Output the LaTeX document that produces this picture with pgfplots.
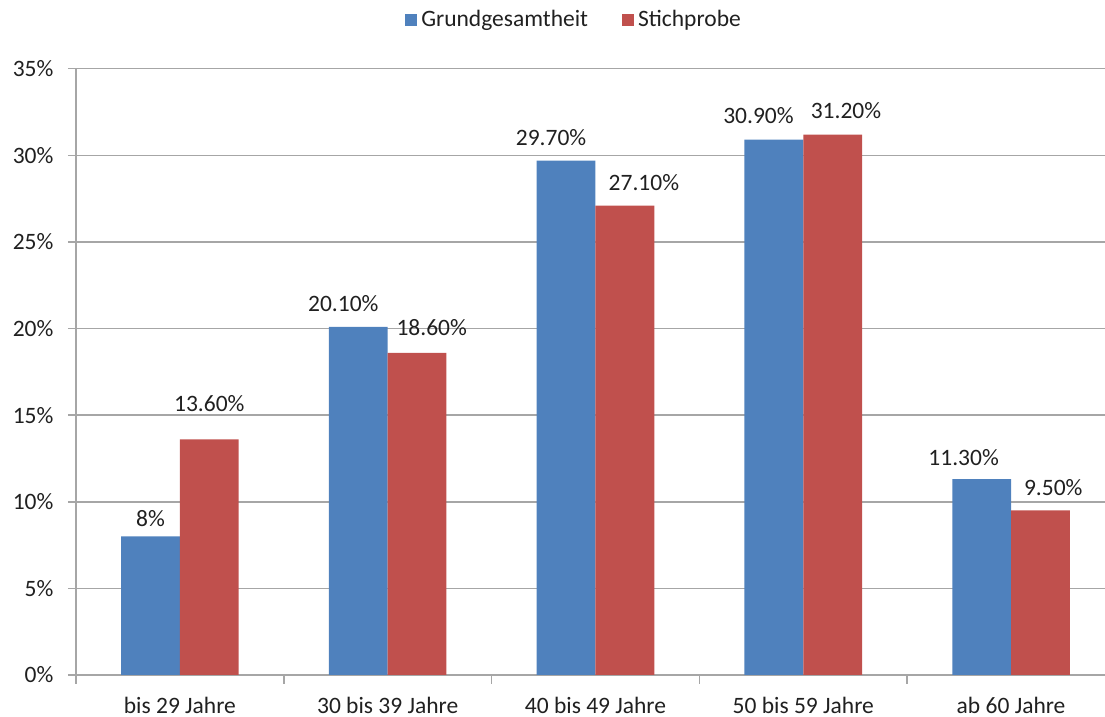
\documentclass[border=0pt]{standalone}
\usepackage{pgfplots}
\pgfplotsset{compat=1.18}
\usepackage{pgfplotstable}
\usepackage{fontspec}
\setmainfont{Carlito}

\definecolor{barblue}{HTML}{4F81BD}
\definecolor{barred}{HTML}{C0504D}
\definecolor{gridgray}{HTML}{A6A6A6}
\definecolor{txt}{HTML}{202020}

% age group index, share in percent, printed label, label offsets (pt)
\pgfplotstableread{
x  y     lab    dx    dy
0  8.0   8      0     4.85
1  20.1  20.10  -7.5  7.5
2  29.7  29.70  -7.5  7.65
3  30.9  30.90  -7.7  8.1
4  11.3  11.30  -9.0  7.1
}\grund
\pgfplotstableread{
x  y     lab    dx    dy
0  13.6  13.60  0     13.8
1  18.6  18.60  7.3   8.85
2  27.1  27.10  9.5   7.7
3  31.2  31.20  6.65  8.0
4  9.5   9.50   6.4   7.7
}\stich

\begin{document}
\begin{tikzpicture}[font=\fontsize{11.75}{14}\selectfont, text=txt]
\useasboundingbox (0,0) rectangle (552.5pt,358.5pt);
\begin{axis}[
  at={(38pt,21pt)}, anchor=south west,
  scale only axis, width=514.5pt, height=303.15pt,
  xmin=-0.5, xmax=4.452, ymin=0, ymax=35,
  ybar=0pt, bar width=0.283,
  axis lines*=left,
  axis line style={-, draw=gridgray, line width=0.8pt},
  ymajorgrids, grid style={draw=gridgray, line width=0.8pt},
  ytick={0,5,...,35},
  yticklabel={\pgfmathprintnumber{\tick}\%},
  /pgf/number format/assume math mode=true,
  tick align=outside,
  major tick length=4pt,
  minor tick length=4.5pt,
  tick style={draw=gridgray, line width=0.8pt},
  xtick={0,1,2,3,4},
  xticklabels={bis 29 Jahre, 30 bis 39 Jahre, 40 bis 49 Jahre, 50 bis 59 Jahre, ab 60 Jahre},
  major x tick style={draw=none},
  minor xtick={-0.5,0.5,1.5,2.5,3.5},
  xticklabel style={anchor=base, yshift=-15.3pt},
  yticklabel style={anchor=east, xshift=-3.75pt},
  legend style={at={(0.485,1.080)}, anchor=center, draw=none, fill=none,
    legend columns=2, font=\fontsize{11.75}{14}\selectfont,
    /tikz/every even column/.append style={column sep=15pt}},
  point meta=explicit symbolic,
  nodes near coords={\pgfplotspointmeta\%},
  visualization depends on=\thisrow{dx}\as\dx,
  visualization depends on=\thisrow{dy}\as\dy,
  every node near coord/.append style={anchor=base, xshift=\dx pt, yshift=\dy pt,
    font=\fontsize{11.75}{14}\selectfont, text=txt},
]
\addplot[fill=barblue, draw=none,
  legend image code/.code={\fill[barblue] (0pt,-3pt) rectangle (6pt,3pt);}]
  table[x=x, y=y, meta=lab] {\grund};
\addplot[fill=barred, draw=none,
  legend image code/.code={\fill[barred] (0pt,-3pt) rectangle (6pt,3pt);}]
  table[x=x, y=y, meta=lab] {\stich};
\legend{Grundgesamtheit, Stichprobe}
\end{axis}
\end{tikzpicture}
\end{document}
